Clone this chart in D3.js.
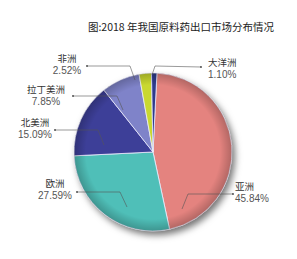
<!DOCTYPE html>
<html><head><meta charset="utf-8">
<script src="https://cdn.jsdelivr.net/npm/d3@7"></script>
<style>body{margin:0;background:#fff}svg{display:block}</style>
</head><body>
<svg id="c" width="297" height="259"></svg>
<script>
const title = "图:2018 年我国原料药出口市场分布情况";
const categories = ["亚洲","欧洲","北美洲","拉丁美洲","非洲","大洋洲"];
const values = [45.84, 27.59, 15.09, 7.85, 2.52, 1.10];
const valueLabels = ["45.84%","27.59%","15.09%","7.85%","2.52%","1.10%"];
const colors = ["#e4837f","#4fbfb8","#3d3f98","#7f83c9","#c9d830","#2e3a8c"];

// label layout: text x, name baseline, anchor, leader points
const layout = [
  {x:235, y1:190, a:"start", pts:[[233,194],[188,194],[182,209]]},
  {x:55,  y1:187, a:"middle", pts:[[77,192],[120,192],[127,207]]},
  {x:35,  y1:126, a:"middle", pts:[[55,130],[98,130],[104,145]]},
  {x:46,  y1:93,  a:"middle", pts:[[73,96],[117,96],[123,110]]},
  {x:67,  y1:62,  a:"middle", pts:[[87,66],[130,66],[135,80]]},
  {x:208, y1:66,  a:"start", pts:[[201,67],[155,66],[152,75]]}
];

const svg = d3.select("#c");
const cjk = "'Noto Sans CJK SC','Noto Sans',sans-serif";
const lat = "'Liberation Sans',Arial,sans-serif";
const cx = 153, cy = 152, R = 79;

const defs = svg.append("defs");
const f = defs.append("filter").attr("id","sh").attr("x","-20%").attr("y","-20%").attr("width","150%").attr("height","150%");
f.append("feDropShadow").attr("dx",3).attr("dy",4).attr("stdDeviation",3.5).attr("flood-color","#000").attr("flood-opacity",0.55);
const rg = defs.append("radialGradient").attr("id","rim").attr("cx","50%").attr("cy","50%").attr("r","50%");
rg.append("stop").attr("offset","0%").attr("stop-color","#000").attr("stop-opacity",0);
rg.append("stop").attr("offset","85%").attr("stop-color","#000").attr("stop-opacity",0);
rg.append("stop").attr("offset","100%").attr("stop-color","#000").attr("stop-opacity",0.22);

svg.append("text").attr("x",181).attr("y",31).attr("text-anchor","middle")
  .attr("font-family",cjk).attr("font-size",10.5).attr("fill","#222").text(title);

const data = categories.map((c,i)=>({c, v:values[i], l:valueLabels[i], col:colors[i], lay:layout[i]}));
const start = 0.05;
const pie = d3.pie().sort(null).value(d=>d.v).startAngle(start).endAngle(start+2*Math.PI);
const arc = d3.arc().innerRadius(0).outerRadius(R);
const g = svg.append("g").attr("transform",`translate(${cx},${cy})`);
g.append("circle").attr("r",R).attr("fill","#888").attr("filter","url(#sh)");
g.selectAll("path.s").data(pie(data)).join("path").attr("class","s")
  .attr("d",arc).attr("fill",d=>d.data.col).attr("stroke","#eef").attr("stroke-width",0.8);
g.append("circle").attr("r",R).attr("fill","url(#rim)");

const line = d3.line();
data.forEach(d=>{
  svg.append("path").attr("d",line(d.lay.pts)).attr("fill","none").attr("stroke","#555").attr("stroke-width",0.6);
  svg.append("circle").attr("cx",d.lay.pts[0][0]).attr("cy",d.lay.pts[0][1]).attr("r",0.9).attr("fill","#444");
  svg.append("text").attr("x",d.lay.x).attr("y",d.lay.y1).attr("text-anchor",d.lay.a)
    .attr("font-family",cjk).attr("font-size",9.5).attr("fill","#333").text(d.c);
  svg.append("text").attr("x",d.lay.x).attr("y",d.lay.y1+11.8).attr("text-anchor",d.lay.a)
    .attr("font-family",lat).attr("font-size",10).attr("fill","#555").text(d.l);
});
</script>
</body></html>
